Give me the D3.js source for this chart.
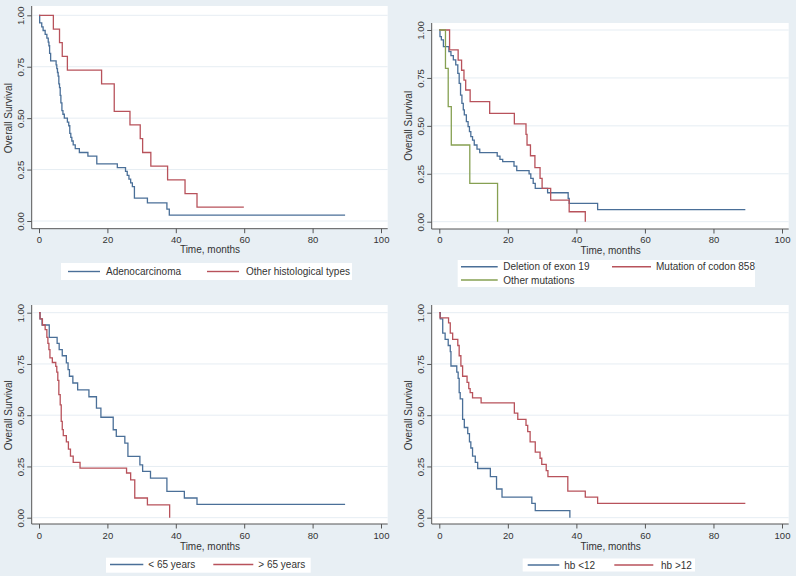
<!DOCTYPE html>
<html><head><meta charset="utf-8">
<script src="https://cdn.jsdelivr.net/npm/d3@7/dist/d3.min.js"></script>
<style>
html,body{margin:0;padding:0;background:#e8eff4;}
svg{display:block;font-family:"Liberation Sans",Arial,Helvetica,sans-serif;}
</style></head><body>
<svg id="chart" width="796" height="576"></svg>
<script>
// ---- data (time in months, survival probability) ----
const xTicks = [0, 20, 40, 60, 80, 100];
const yTicks = [0, 0.25, 0.5, 0.75, 1];
const xTitle = "Time, months";
const yTitle = "Overall Survival";

const adenocarcinoma = [[0,1],[0.2,0.963],[0.8,0.944],[1.2,0.926],[1.8,0.907],[2.3,0.889],[2.7,0.87],[2.9,0.852],[3.1,0.815],[3.4,0.778],[5.0,0.759],[5.2,0.741],[5.4,0.722],[5.6,0.704],[5.8,0.667],[6.0,0.648],[6.2,0.611],[6.4,0.574],[6.7,0.537],[7.0,0.519],[7.4,0.5],[8.3,0.481],[8.7,0.463],[9.0,0.426],[9.3,0.407],[9.6,0.389],[10.0,0.37],[10.6,0.352],[11.8,0.333],[14.3,0.315],[16.9,0.278],[22.9,0.259],[25.3,0.241],[25.8,0.222],[26.3,0.204],[26.8,0.185],[27.3,0.167],[27.9,0.111],[31.7,0.088],[37.4,0.058],[38.1,0.029],[89.5,0.029]];
const otherHistological = [[0,1],[4.2,0.933],[6.0,0.867],[6.8,0.8],[8.3,0.733],[18.3,0.667],[22.0,0.533],[26.6,0.467],[29.6,0.4],[30.3,0.333],[32.7,0.267],[37.6,0.2],[42.7,0.133],[46.2,0.067],[59.9,0.067]];

const deletionExon19 = [[0,1],[0.2,0.965],[0.6,0.948],[1.2,0.913],[2.8,0.887],[3.4,0.866],[4.1,0.844],[4.8,0.818],[5.4,0.774],[5.8,0.722],[6.2,0.66],[6.6,0.617],[7.0,0.583],[7.3,0.557],[7.9,0.522],[8.4,0.496],[8.8,0.47],[9.2,0.444],[9.7,0.426],[10.2,0.4],[11.0,0.379],[11.8,0.36],[16.9,0.342],[17.7,0.325],[18.5,0.313],[21.8,0.29],[22.6,0.266],[26.2,0.249],[26.7,0.226],[27.4,0.2],[28.0,0.174],[31.6,0.151],[37.6,0.122],[37.9,0.096],[46.2,0.063],[89.3,0.063]];
const mutationCodon858 = [[0,1],[3.0,0.896],[5.5,0.843],[6.5,0.79],[7.2,0.739],[7.7,0.687],[9.0,0.626],[14.7,0.565],[21.9,0.51],[25.3,0.456],[25.6,0.40],[26.6,0.344],[27.9,0.282],[29.4,0.226],[30.0,0.174],[32.5,0.113],[37.9,0.052],[42.6,0]];
const otherMutations = [[0,1],[1.8,0.8],[2.6,0.6],[3.5,0.4],[8.9,0.2],[17.0,0]];

const under65 = [[0,1],[0.3,0.97],[0.9,0.94],[3.0,0.88],[5.3,0.85],[5.9,0.82],[6.8,0.79],[8.0,0.755],[8.5,0.722],[8.9,0.69],[9.9,0.657],[11.3,0.624],[14.6,0.59],[16.8,0.535],[18.1,0.49],[21.7,0.429],[22.6,0.397],[25.1,0.364],[26.0,0.299],[29.5,0.258],[30.3,0.226],[32.6,0.193],[37.4,0.128],[42.5,0.096],[46.2,0.065],[89.5,0.065]];
const over65 = [[0,1],[0.3,0.97],[1.0,0.94],[1.8,0.917],[2.3,0.88],[2.6,0.85],[2.9,0.82],[3.2,0.78],[3.9,0.757],[4.9,0.738],[5.2,0.71],[5.5,0.67],[5.8,0.6],[6.2,0.55],[6.5,0.47],[6.8,0.43],[7.1,0.40],[8.0,0.37],[8.6,0.335],[9.2,0.3],[10.0,0.27],[12.0,0.242],[25.6,0.218],[26.8,0.185],[28.0,0.096],[31.7,0.063],[38.2,0]];

const hbUnder12 = [[0,1],[0.3,0.97],[1.0,0.90],[1.7,0.87],[2.6,0.84],[3.2,0.81],[3.4,0.74],[5.1,0.71],[5.5,0.68],[5.8,0.61],[6.1,0.58],[6.8,0.48],[7.3,0.44],[8.3,0.41],[8.8,0.37],[9.2,0.34],[9.7,0.30],[10.5,0.27],[11.2,0.24],[14.9,0.20],[16.7,0.14],[18.3,0.10],[27.0,0.07],[28.0,0.035],[38.1,0]];
const hbOver12 = [[0,1],[0.2,0.975],[2.7,0.95],[3.2,0.90],[3.9,0.87],[5.4,0.84],[5.8,0.79],[6.3,0.74],[6.8,0.69],[8.1,0.66],[8.6,0.63],[9.0,0.61],[9.7,0.585],[12.2,0.56],[21.9,0.51],[22.9,0.48],[25.3,0.45],[25.8,0.42],[26.5,0.37],[28.0,0.32],[29.4,0.29],[29.9,0.26],[31.2,0.23],[31.7,0.20],[37.5,0.13],[42.6,0.10],[46.2,0.07],[89.3,0.07]];

const labels1 = ["Adenocarcinoma", "Other histological types"];
const labels2 = ["Deletion of exon 19", "Mutation of codon 858", "Other mutations"];
const labels3 = ["< 65 years", "> 65 years"];
const labels4 = ["hb <12", "hb >12"];

// ---- styles ----
const BLUE = "#4a6f98", RED = "#b8525b", GREEN = "#86a052";

// ---- layout ----
const panels = [
  { series:[adenocarcinoma, otherHistological], labels:labels1, colors:[BLUE,RED],
    bg:[31.7,6,387.7,228.7], xr:[39,381], yr:[221,15.3], tickOff:10.8, titleY:252.5,
    legend:{box:[61,263,352,280], rows:[[68,100,106,271.5],[207,239,246,271.5]]} },
  { series:[deletionExon19, mutationCodon858, otherMutations], labels:labels2, colors:[BLUE,RED,GREEN],
    bg:[431.7,23,788.7,229], xr:[439.3,782], yr:[221.7,30], tickOff:11, titleY:253.5,
    legend:{box:[457.7,260,755,287], rows:[[461,497.7,503.3,266.7],[612,651,656,266.7],[461,497.7,503.3,280]]} },
  { series:[under65, over65], labels:labels3, colors:[BLUE,RED],
    bg:[31.7,305,387.7,524], xr:[39,381], yr:[517.7,312.7], tickOff:12, titleY:549.5,
    legend:{box:[106,557.7,310.7,572.7], rows:[[110,143.3,148.3,564.5],[213.3,253.3,258.3,564.5]]} },
  { series:[hbUnder12, hbOver12], labels:labels4, colors:[BLUE,RED],
    bg:[431.7,305,788.7,524], xr:[439.3,782], yr:[517.7,312.7], tickOff:12, titleY:549.5,
    legend:{box:[522.7,558.5,695,571.5], rows:[[527.7,559.3,564.3,565],[614.3,653.3,661,565]]} }
];

const svg = d3.select("#chart");
svg.append("rect").attr("width",796).attr("height",576).attr("fill","#e8eff4");

const fmtY = d3.format(".2f");

panels.forEach(p => {
  const g = svg.append("g");
  const [L,T,R,B] = p.bg;
  g.append("rect").attr("x",L).attr("y",T).attr("width",R-L).attr("height",B-T).attr("fill","#ffffff");

  const x = d3.scaleLinear().domain([0,100]).range(p.xr);
  const y = d3.scaleLinear().domain([0,1]).range(p.yr);

  // gridlines
  g.selectAll(".grid").data(yTicks).enter().append("line")
    .attr("x1",L+1).attr("x2",R).attr("y1",d=>y(d)).attr("y2",d=>y(d))
    .attr("stroke","#e6edf3").attr("stroke-width",1);

  // x axis
  const xa = g.append("g").attr("transform",`translate(0,${B})`)
    .call(d3.axisBottom(x).tickValues(xTicks).tickSize(4.5).tickSizeOuter(0).tickPadding(2));
  xa.select(".domain").attr("d",`M${L},0H${R}`).attr("stroke","#555").attr("stroke-width",1);
  xa.selectAll(".tick line").attr("stroke","#555");
  xa.selectAll(".tick text").attr("font-size",9.5).attr("fill","#333")
    .attr("y",p.tickOff).attr("dy","0.35em").attr("font-family","Liberation Sans, Arial, sans-serif");

  // y axis
  const ya = g.append("g").attr("transform",`translate(${L},0)`)
    .call(d3.axisLeft(y).tickValues(yTicks).tickFormat(fmtY).tickSize(4.5).tickSizeOuter(0));
  ya.select(".domain").attr("d",`M0,${T}V${B}`).attr("stroke","#555").attr("stroke-width",1);
  ya.selectAll(".tick line").attr("stroke","#555");
  ya.selectAll(".tick text").attr("font-size",9.5).attr("fill","#333")
    .attr("transform","rotate(-90)").attr("text-anchor","middle")
    .attr("x",0).attr("y",-11).attr("dy","0.35em").attr("font-family","Liberation Sans, Arial, sans-serif");

  // axis titles
  g.append("text").attr("x",(p.xr[0]+p.xr[1])/2).attr("y",p.titleY).attr("text-anchor","middle")
    .attr("font-size",10).attr("fill","#333").text(xTitle);
  const ycen = (p.yr[0]+p.yr[1])/2;
  g.append("text").attr("transform",`translate(${L-23},${ycen}) rotate(-90)`).attr("dy","0.35em")
    .attr("text-anchor","middle").attr("font-size",10).attr("fill","#333").text(yTitle);

  // curves
  const line = d3.line().x(d=>x(d[0])).y(d=>y(d[1])).curve(d3.curveStepAfter);
  p.series.forEach((s,i) => {
    g.append("path").datum(s).attr("d",line).attr("fill","none")
      .attr("stroke",p.colors[i]).attr("stroke-width",1.3);
  });

  // legend
  const lb = p.legend.box;
  g.append("rect").attr("x",lb[0]).attr("y",lb[1]).attr("width",lb[2]-lb[0]).attr("height",lb[3]-lb[1])
    .attr("fill","#ffffff");
  p.legend.rows.forEach((r,i) => {
    g.append("line").attr("x1",r[0]).attr("x2",r[1]).attr("y1",r[3]).attr("y2",r[3])
      .attr("stroke",p.colors[i]).attr("stroke-width",1.4);
    g.append("text").attr("x",r[2]).attr("y",r[3]).attr("dy","0.35em").attr("font-size",10)
      .attr("fill","#333").text(p.labels[i]);
  });
});
</script>
</body></html>
